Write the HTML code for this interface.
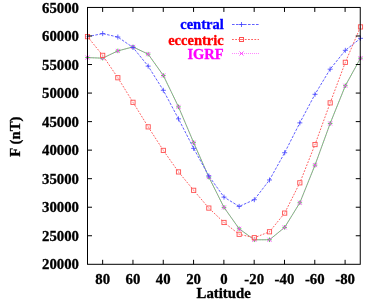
<!DOCTYPE html><html><head><meta charset="utf-8"><style>html,body{margin:0;padding:0;background:#fff}svg{display:block;will-change:transform}text{font-family:"Liberation Serif",serif;font-weight:bold;font-size:14.8px;stroke-width:0.3px}</style></head><body>
<svg width="382" height="301" viewBox="0 0 382 301">
<rect width="382" height="301" fill="#fff"/>
<polyline points="87.50,57.59 102.67,58.16 117.83,50.90 133.00,46.91 148.17,54.16 163.33,75.46 178.50,106.87 193.67,142.68 208.83,177.12 224.00,207.39 239.17,228.81 254.33,239.77 269.50,239.77 284.67,227.38 299.83,202.76 315.00,165.13 330.17,123.44 345.33,85.74 360.50,58.16" fill="none" stroke="#70d070" stroke-width="1"/>
<polyline points="87.50,57.59 102.67,58.16 117.83,50.90 133.00,46.91 148.17,54.16 163.33,75.46 178.50,106.87 193.67,142.68 208.83,177.12 224.00,207.39 239.17,228.81 254.33,239.77 269.50,239.77 284.67,227.38 299.83,202.76 315.00,165.13 330.17,123.44 345.33,85.74 360.50,58.16" fill="none" stroke="#e040e0" stroke-width="1" stroke-dasharray="1.3 1.3" opacity="0.5"/>
<polyline points="87.50,36.63 102.67,33.60 117.83,37.03 133.00,47.48 148.17,66.15 163.33,90.31 178.50,118.87 193.67,148.39 208.83,175.98 224.00,197.11 239.17,206.42 254.33,199.68 269.50,179.98 284.67,152.73 299.83,122.86 315.00,94.31 330.17,69.18 345.33,50.33 360.50,38.34" fill="none" stroke="#6060ff" stroke-width="1" stroke-dasharray="2.6 1.4"/>
<polyline points="87.50,36.63 102.67,55.36 117.83,77.75 133.00,102.30 148.17,126.86 163.33,150.39 178.50,171.92 193.67,190.31 208.83,208.07 224.00,222.47 239.17,234.29 254.33,237.71 269.50,231.78 284.67,213.10 299.83,182.83 315.00,144.57 330.17,102.88 345.33,62.33 360.50,26.92" fill="none" stroke="#ff6060" stroke-width="1" stroke-dasharray="1.8 1.4"/>
<path d="M85.20 57.59H89.80M87.50 55.29V59.89" stroke="#40d040" stroke-width="0.9" fill="none" opacity="1"/>
<path d="M85.50 55.59L89.50 59.59M85.50 59.59L89.50 55.59" stroke="#ff40ff" stroke-width="0.9" fill="none" opacity="1"/>
<path d="M100.37 58.16H104.97M102.67 55.86V60.46" stroke="#40d040" stroke-width="0.9" fill="none" opacity="1"/>
<path d="M100.67 56.16L104.67 60.16M100.67 60.16L104.67 56.16" stroke="#ff40ff" stroke-width="0.9" fill="none" opacity="1"/>
<path d="M115.53 50.90H120.13M117.83 48.60V53.20" stroke="#40d040" stroke-width="0.9" fill="none" opacity="1"/>
<path d="M115.83 48.90L119.83 52.90M115.83 52.90L119.83 48.90" stroke="#ff40ff" stroke-width="0.9" fill="none" opacity="1"/>
<path d="M130.70 46.91H135.30M133.00 44.61V49.21" stroke="#40d040" stroke-width="0.9" fill="none" opacity="1"/>
<path d="M131.00 44.91L135.00 48.91M131.00 48.91L135.00 44.91" stroke="#ff40ff" stroke-width="0.9" fill="none" opacity="1"/>
<path d="M145.87 54.16H150.47M148.17 51.86V56.46" stroke="#40d040" stroke-width="0.9" fill="none" opacity="1"/>
<path d="M146.17 52.16L150.17 56.16M146.17 56.16L150.17 52.16" stroke="#ff40ff" stroke-width="0.9" fill="none" opacity="1"/>
<path d="M161.03 75.46H165.63M163.33 73.16V77.76" stroke="#40d040" stroke-width="0.9" fill="none" opacity="1"/>
<path d="M161.33 73.46L165.33 77.46M161.33 77.46L165.33 73.46" stroke="#ff40ff" stroke-width="0.9" fill="none" opacity="1"/>
<path d="M176.20 106.87H180.80M178.50 104.57V109.17" stroke="#40d040" stroke-width="0.9" fill="none" opacity="1"/>
<path d="M176.50 104.87L180.50 108.87M176.50 108.87L180.50 104.87" stroke="#ff40ff" stroke-width="0.9" fill="none" opacity="1"/>
<path d="M191.37 142.68H195.97M193.67 140.38V144.98" stroke="#40d040" stroke-width="0.9" fill="none" opacity="1"/>
<path d="M191.67 140.68L195.67 144.68M191.67 144.68L195.67 140.68" stroke="#ff40ff" stroke-width="0.9" fill="none" opacity="1"/>
<path d="M206.53 177.12H211.13M208.83 174.82V179.42" stroke="#40d040" stroke-width="0.9" fill="none" opacity="1"/>
<path d="M206.83 175.12L210.83 179.12M206.83 179.12L210.83 175.12" stroke="#ff40ff" stroke-width="0.9" fill="none" opacity="1"/>
<path d="M221.70 207.39H226.30M224.00 205.09V209.69" stroke="#40d040" stroke-width="0.9" fill="none" opacity="1"/>
<path d="M222.00 205.39L226.00 209.39M222.00 209.39L226.00 205.39" stroke="#ff40ff" stroke-width="0.9" fill="none" opacity="1"/>
<path d="M236.87 228.81H241.47M239.17 226.51V231.11" stroke="#40d040" stroke-width="0.9" fill="none" opacity="1"/>
<path d="M237.17 226.81L241.17 230.81M237.17 230.81L241.17 226.81" stroke="#ff40ff" stroke-width="0.9" fill="none" opacity="1"/>
<path d="M252.03 239.77H256.63M254.33 237.47V242.07" stroke="#40d040" stroke-width="0.9" fill="none" opacity="1"/>
<path d="M252.33 237.77L256.33 241.77M252.33 241.77L256.33 237.77" stroke="#ff40ff" stroke-width="0.9" fill="none" opacity="1"/>
<path d="M267.20 239.77H271.80M269.50 237.47V242.07" stroke="#40d040" stroke-width="0.9" fill="none" opacity="1"/>
<path d="M267.50 237.77L271.50 241.77M267.50 241.77L271.50 237.77" stroke="#ff40ff" stroke-width="0.9" fill="none" opacity="1"/>
<path d="M282.37 227.38H286.97M284.67 225.08V229.68" stroke="#40d040" stroke-width="0.9" fill="none" opacity="1"/>
<path d="M282.67 225.38L286.67 229.38M282.67 229.38L286.67 225.38" stroke="#ff40ff" stroke-width="0.9" fill="none" opacity="1"/>
<path d="M297.53 202.76H302.13M299.83 200.46V205.06" stroke="#40d040" stroke-width="0.9" fill="none" opacity="1"/>
<path d="M297.83 200.76L301.83 204.76M297.83 204.76L301.83 200.76" stroke="#ff40ff" stroke-width="0.9" fill="none" opacity="1"/>
<path d="M312.70 165.13H317.30M315.00 162.83V167.43" stroke="#40d040" stroke-width="0.9" fill="none" opacity="1"/>
<path d="M313.00 163.13L317.00 167.13M313.00 167.13L317.00 163.13" stroke="#ff40ff" stroke-width="0.9" fill="none" opacity="1"/>
<path d="M327.87 123.44H332.47M330.17 121.14V125.74" stroke="#40d040" stroke-width="0.9" fill="none" opacity="1"/>
<path d="M328.17 121.44L332.17 125.44M328.17 125.44L332.17 121.44" stroke="#ff40ff" stroke-width="0.9" fill="none" opacity="1"/>
<path d="M343.03 85.74H347.63M345.33 83.44V88.04" stroke="#40d040" stroke-width="0.9" fill="none" opacity="1"/>
<path d="M343.33 83.74L347.33 87.74M343.33 87.74L347.33 83.74" stroke="#ff40ff" stroke-width="0.9" fill="none" opacity="1"/>
<path d="M358.20 58.16H362.80M360.50 55.86V60.46" stroke="#40d040" stroke-width="0.9" fill="none" opacity="1"/>
<path d="M358.50 56.16L362.50 60.16M358.50 60.16L362.50 56.16" stroke="#ff40ff" stroke-width="0.9" fill="none" opacity="1"/>
<path d="M85.00 36.63H90.00M87.50 34.13V39.13" stroke="#4040ff" stroke-width="0.8" fill="none" opacity="1"/>
<path d="M100.17 33.60H105.17M102.67 31.10V36.10" stroke="#4040ff" stroke-width="0.8" fill="none" opacity="1"/>
<path d="M115.33 37.03H120.33M117.83 34.53V39.53" stroke="#4040ff" stroke-width="0.8" fill="none" opacity="1"/>
<path d="M130.50 47.48H135.50M133.00 44.98V49.98" stroke="#4040ff" stroke-width="0.8" fill="none" opacity="1"/>
<path d="M145.67 66.15H150.67M148.17 63.65V68.65" stroke="#4040ff" stroke-width="0.8" fill="none" opacity="1"/>
<path d="M160.83 90.31H165.83M163.33 87.81V92.81" stroke="#4040ff" stroke-width="0.8" fill="none" opacity="1"/>
<path d="M176.00 118.87H181.00M178.50 116.37V121.37" stroke="#4040ff" stroke-width="0.8" fill="none" opacity="1"/>
<path d="M191.17 148.39H196.17M193.67 145.89V150.89" stroke="#4040ff" stroke-width="0.8" fill="none" opacity="1"/>
<path d="M206.33 175.98H211.33M208.83 173.48V178.48" stroke="#4040ff" stroke-width="0.8" fill="none" opacity="1"/>
<path d="M221.50 197.11H226.50M224.00 194.61V199.61" stroke="#4040ff" stroke-width="0.8" fill="none" opacity="1"/>
<path d="M236.67 206.42H241.67M239.17 203.92V208.92" stroke="#4040ff" stroke-width="0.8" fill="none" opacity="1"/>
<path d="M251.83 199.68H256.83M254.33 197.18V202.18" stroke="#4040ff" stroke-width="0.8" fill="none" opacity="1"/>
<path d="M267.00 179.98H272.00M269.50 177.48V182.48" stroke="#4040ff" stroke-width="0.8" fill="none" opacity="1"/>
<path d="M282.17 152.73H287.17M284.67 150.23V155.23" stroke="#4040ff" stroke-width="0.8" fill="none" opacity="1"/>
<path d="M297.33 122.86H302.33M299.83 120.36V125.36" stroke="#4040ff" stroke-width="0.8" fill="none" opacity="1"/>
<path d="M312.50 94.31H317.50M315.00 91.81V96.81" stroke="#4040ff" stroke-width="0.8" fill="none" opacity="1"/>
<path d="M327.67 69.18H332.67M330.17 66.68V71.68" stroke="#4040ff" stroke-width="0.8" fill="none" opacity="1"/>
<path d="M342.83 50.33H347.83M345.33 47.83V52.83" stroke="#4040ff" stroke-width="0.8" fill="none" opacity="1"/>
<path d="M358.00 38.34H363.00M360.50 35.84V40.84" stroke="#4040ff" stroke-width="0.8" fill="none" opacity="1"/>
<rect x="85.40" y="34.53" width="4.20" height="4.20" stroke="#ff5050" stroke-width="0.9" fill="#fff" fill-opacity="0.5" opacity="1"/><rect x="87.00" y="36.13" width="1" height="1" fill="#ff5050" opacity="0.6"/>
<rect x="100.57" y="53.26" width="4.20" height="4.20" stroke="#ff5050" stroke-width="0.9" fill="#fff" fill-opacity="0.5" opacity="1"/><rect x="102.17" y="54.86" width="1" height="1" fill="#ff5050" opacity="0.6"/>
<rect x="115.73" y="75.65" width="4.20" height="4.20" stroke="#ff5050" stroke-width="0.9" fill="#fff" fill-opacity="0.5" opacity="1"/><rect x="117.33" y="77.25" width="1" height="1" fill="#ff5050" opacity="0.6"/>
<rect x="130.90" y="100.20" width="4.20" height="4.20" stroke="#ff5050" stroke-width="0.9" fill="#fff" fill-opacity="0.5" opacity="1"/><rect x="132.50" y="101.80" width="1" height="1" fill="#ff5050" opacity="0.6"/>
<rect x="146.07" y="124.76" width="4.20" height="4.20" stroke="#ff5050" stroke-width="0.9" fill="#fff" fill-opacity="0.5" opacity="1"/><rect x="147.67" y="126.36" width="1" height="1" fill="#ff5050" opacity="0.6"/>
<rect x="161.23" y="148.29" width="4.20" height="4.20" stroke="#ff5050" stroke-width="0.9" fill="#fff" fill-opacity="0.5" opacity="1"/><rect x="162.83" y="149.89" width="1" height="1" fill="#ff5050" opacity="0.6"/>
<rect x="176.40" y="169.82" width="4.20" height="4.20" stroke="#ff5050" stroke-width="0.9" fill="#fff" fill-opacity="0.5" opacity="1"/><rect x="178.00" y="171.42" width="1" height="1" fill="#ff5050" opacity="0.6"/>
<rect x="191.57" y="188.21" width="4.20" height="4.20" stroke="#ff5050" stroke-width="0.9" fill="#fff" fill-opacity="0.5" opacity="1"/><rect x="193.17" y="189.81" width="1" height="1" fill="#ff5050" opacity="0.6"/>
<rect x="206.73" y="205.97" width="4.20" height="4.20" stroke="#ff5050" stroke-width="0.9" fill="#fff" fill-opacity="0.5" opacity="1"/><rect x="208.33" y="207.57" width="1" height="1" fill="#ff5050" opacity="0.6"/>
<rect x="221.90" y="220.37" width="4.20" height="4.20" stroke="#ff5050" stroke-width="0.9" fill="#fff" fill-opacity="0.5" opacity="1"/><rect x="223.50" y="221.97" width="1" height="1" fill="#ff5050" opacity="0.6"/>
<rect x="237.07" y="232.19" width="4.20" height="4.20" stroke="#ff5050" stroke-width="0.9" fill="#fff" fill-opacity="0.5" opacity="1"/><rect x="238.67" y="233.79" width="1" height="1" fill="#ff5050" opacity="0.6"/>
<rect x="252.23" y="235.61" width="4.20" height="4.20" stroke="#ff5050" stroke-width="0.9" fill="#fff" fill-opacity="0.5" opacity="1"/><rect x="253.83" y="237.21" width="1" height="1" fill="#ff5050" opacity="0.6"/>
<rect x="267.40" y="229.68" width="4.20" height="4.20" stroke="#ff5050" stroke-width="0.9" fill="#fff" fill-opacity="0.5" opacity="1"/><rect x="269.00" y="231.28" width="1" height="1" fill="#ff5050" opacity="0.6"/>
<rect x="282.57" y="211.00" width="4.20" height="4.20" stroke="#ff5050" stroke-width="0.9" fill="#fff" fill-opacity="0.5" opacity="1"/><rect x="284.17" y="212.60" width="1" height="1" fill="#ff5050" opacity="0.6"/>
<rect x="297.73" y="180.73" width="4.20" height="4.20" stroke="#ff5050" stroke-width="0.9" fill="#fff" fill-opacity="0.5" opacity="1"/><rect x="299.33" y="182.33" width="1" height="1" fill="#ff5050" opacity="0.6"/>
<rect x="312.90" y="142.47" width="4.20" height="4.20" stroke="#ff5050" stroke-width="0.9" fill="#fff" fill-opacity="0.5" opacity="1"/><rect x="314.50" y="144.07" width="1" height="1" fill="#ff5050" opacity="0.6"/>
<rect x="328.07" y="100.78" width="4.20" height="4.20" stroke="#ff5050" stroke-width="0.9" fill="#fff" fill-opacity="0.5" opacity="1"/><rect x="329.67" y="102.38" width="1" height="1" fill="#ff5050" opacity="0.6"/>
<rect x="343.23" y="60.23" width="4.20" height="4.20" stroke="#ff5050" stroke-width="0.9" fill="#fff" fill-opacity="0.5" opacity="1"/><rect x="344.83" y="61.83" width="1" height="1" fill="#ff5050" opacity="0.6"/>
<rect x="358.40" y="24.82" width="4.20" height="4.20" stroke="#ff5050" stroke-width="0.9" fill="#fff" fill-opacity="0.5" opacity="1"/><rect x="360.00" y="26.42" width="1" height="1" fill="#ff5050" opacity="0.6"/>
<rect x="87.50" y="7.45" width="272.75" height="256.85" fill="none" stroke="#000" stroke-width="1"/>
<text x="79" y="12.85" text-anchor="end" stroke="#000">65000</text>
<path d="M87.50 35.99h4.5M360.25 35.99h-4.5" stroke="#000" stroke-width="1"/>
<text x="79" y="41.09" text-anchor="end" stroke="#000">60000</text>
<path d="M87.50 64.53h4.5M360.25 64.53h-4.5" stroke="#000" stroke-width="1"/>
<text x="79" y="69.63" text-anchor="end" stroke="#000">55000</text>
<path d="M87.50 93.07h4.5M360.25 93.07h-4.5" stroke="#000" stroke-width="1"/>
<text x="79" y="98.17" text-anchor="end" stroke="#000">50000</text>
<path d="M87.50 121.61h4.5M360.25 121.61h-4.5" stroke="#000" stroke-width="1"/>
<text x="79" y="126.71" text-anchor="end" stroke="#000">45000</text>
<path d="M87.50 150.14h4.5M360.25 150.14h-4.5" stroke="#000" stroke-width="1"/>
<text x="79" y="155.24" text-anchor="end" stroke="#000">40000</text>
<path d="M87.50 178.68h4.5M360.25 178.68h-4.5" stroke="#000" stroke-width="1"/>
<text x="79" y="183.78" text-anchor="end" stroke="#000">35000</text>
<path d="M87.50 207.22h4.5M360.25 207.22h-4.5" stroke="#000" stroke-width="1"/>
<text x="79" y="212.32" text-anchor="end" stroke="#000">30000</text>
<path d="M87.50 235.76h4.5M360.25 235.76h-4.5" stroke="#000" stroke-width="1"/>
<text x="79" y="240.86" text-anchor="end" stroke="#000">25000</text>
<text x="79" y="269.40" text-anchor="end" stroke="#000">20000</text>
<path d="M102.65 264.30v-4.5M102.65 7.45v4.5" stroke="#000" stroke-width="1"/>
<text x="102.65" y="284.1" text-anchor="middle" stroke="#000">80</text>
<path d="M132.96 264.30v-4.5M132.96 7.45v4.5" stroke="#000" stroke-width="1"/>
<text x="132.96" y="284.1" text-anchor="middle" stroke="#000">60</text>
<path d="M163.26 264.30v-4.5M163.26 7.45v4.5" stroke="#000" stroke-width="1"/>
<text x="163.26" y="284.1" text-anchor="middle" stroke="#000">40</text>
<path d="M193.57 264.30v-4.5M193.57 7.45v4.5" stroke="#000" stroke-width="1"/>
<text x="193.57" y="284.1" text-anchor="middle" stroke="#000">20</text>
<path d="M223.88 264.30v-4.5M223.88 7.45v4.5" stroke="#000" stroke-width="1"/>
<text x="223.88" y="284.1" text-anchor="middle" stroke="#000">0</text>
<path d="M254.18 264.30v-4.5M254.18 7.45v4.5" stroke="#000" stroke-width="1"/>
<text x="254.18" y="284.1" text-anchor="middle" stroke="#000">-20</text>
<path d="M284.49 264.30v-4.5M284.49 7.45v4.5" stroke="#000" stroke-width="1"/>
<text x="284.49" y="284.1" text-anchor="middle" stroke="#000">-40</text>
<path d="M314.79 264.30v-4.5M314.79 7.45v4.5" stroke="#000" stroke-width="1"/>
<text x="314.79" y="284.1" text-anchor="middle" stroke="#000">-60</text>
<path d="M345.10 264.30v-4.5M345.10 7.45v4.5" stroke="#000" stroke-width="1"/>
<text x="345.10" y="284.1" text-anchor="middle" stroke="#000">-80</text>
<text x="223.7" y="298.2" text-anchor="middle" stroke="#000">Latitude</text>
<text transform="translate(19.6,136.6) rotate(-90)" text-anchor="middle" stroke="#000">F (nT)</text>
<text x="223.7" y="29.3" text-anchor="end" fill="#0000ff" stroke="#0000ff" style="font-size:14.5px">central</text>
<path d="M232 24.5H259" stroke="#6060ff" stroke-dasharray="2.6 1.4"/>
<path d="M239.00 24.50H244.00M241.50 22.00V27.00" stroke="#4040ff" stroke-width="0.8" fill="none" opacity="1"/>
<text x="223.7" y="44.8" text-anchor="end" fill="#ff0000" stroke="#ff0000" style="font-size:14.5px">eccentric</text>
<path d="M232 39.5H259" stroke="#ff6060" stroke-dasharray="1.8 1.4"/>
<rect x="239.50" y="37.50" width="4.00" height="4.00" stroke="#ff5050" stroke-width="1" fill="#fff" fill-opacity="0" opacity="1"/><rect x="241.00" y="39.00" width="1" height="1" fill="#ff5050" opacity="0.6"/>
<path d="M239.5 39.5H243.5" stroke="#ff7070"/>
<text x="223.7" y="59.1" text-anchor="end" fill="#ff00ff" stroke="#ff00ff" style="font-size:14.5px">IGRF</text>
<path d="M232 53.5H259" stroke="#ff88ff" stroke-dasharray="1 1"/>
<path d="M239.50 51.50L243.50 55.50M239.50 55.50L243.50 51.50" stroke="#ff40ff" stroke-width="0.9" fill="none" opacity="1"/>
</svg></body></html>
